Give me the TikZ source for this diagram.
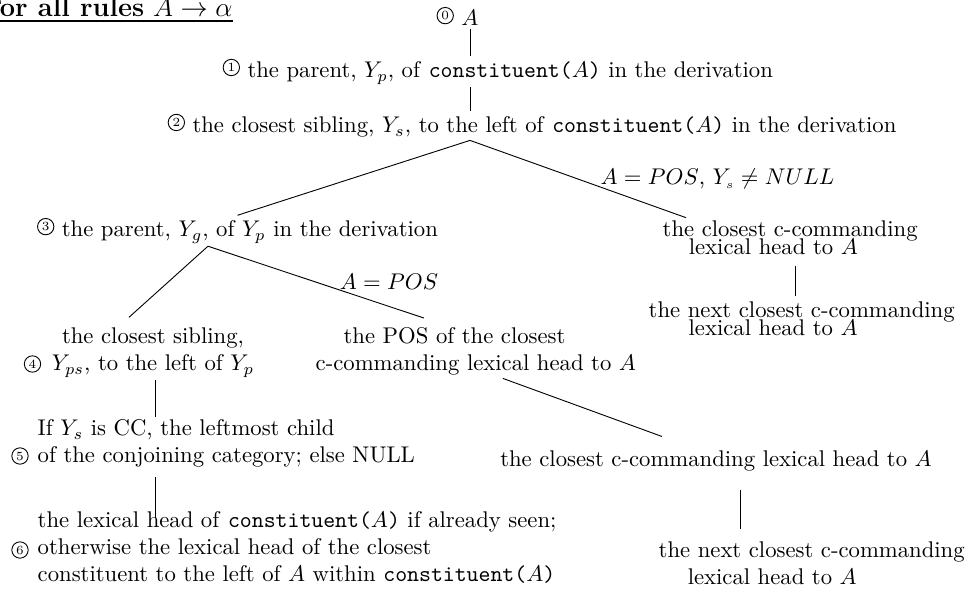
\documentclass[tikz,border=0pt]{standalone}
\usepackage{amsmath}
\usepackage{amssymb}
\usepackage{tikz}
\usetikzlibrary{calc}

\tikzset{
  numc/.style={draw,circle,inner sep=0pt,minimum size=7.2pt,font=\fontsize{5.5}{6}\selectfont},
  txt/.style={inner sep=1pt,anchor=base},
  leftbox/.style={inner sep=1pt,anchor=base west,align=left},
  tightbox/.style={inner sep=1pt,anchor=base west,align=left,
    font={\baselineskip=8.3pt\relax\lineskiplimit=-10pt\relax}},
}
\newcommand{\cnum}[1]{\tikz[baseline=-2.8pt]\node[numc]{#1};}
\newcommand{\cons}{\texttt{constituent(}$A$\texttt{)}}

\begin{document}
\begin{tikzpicture}[x=0.4406pt,y=-0.4406pt]
  \useasboundingbox (0,0) rectangle (968,590);
  % heading
  \node[inner sep=0pt,anchor=base east,font=\large] (title) at (233,17)
       {\underline{\textbf{For all rules} $A \rightarrow \alpha$}};
  % main spine
  \node[txt] (n0) at (457.5,26) {\cnum{0} $A$};
  \node[leftbox] (n1) at (220,78) {\cnum{1} the parent, $Y_p$, of \cons{} in the derivation};
  \node[leftbox] (n2) at (165,133) {\cnum{2} the closest sibling, $Y_s$, to the left of \cons{} in the derivation};
  \node[txt] (n3) at (237.5,237) {\cnum{3} the parent, $Y_g$, of $Y_p$ in the derivation};
  % right branch under 2
  \node[txt] (lbl1) at (717.5,185) {$A = POS$, $Y_{\scriptscriptstyle s}\neq NULL$};
  \node[tightbox] (r1) at (660,255) {the closest c-commanding\\\hspace*{11.5pt}lexical head to $A$};
  \node[tightbox] (r2) at (646,336) {the next closest c-commanding\\\hspace*{17.6pt}lexical head to $A$};
  % children of 3
  \node[txt] (lbl2) at (389,290) {$A = POS$};
  \node[txt,align=center] (n4) at (153,371) {the closest sibling,\\$Y_{ps}$, to the left of $Y_p$};
  \node[numc] (c4) at (32.5,364) {4};
  \node[leftbox] (p4) at (313,371) {\hspace*{12.3pt}the POS of the closest\\c-commanding lexical head to $A$};
  % left column
  \node[leftbox] (n5) at (35,463) {If $Y_s$ is CC, the leftmost child\\of the conjoining category; else NULL};
  \node[numc] (c5) at (20,456) {5};
  \node[leftbox] (n6) at (35,582) {the lexical head of \cons{} if already seen;\\
       otherwise the lexical head of the closest\\constituent to the left of $A$ within \cons{}};
  \node[numc] (c6) at (20,550) {6};
  % right column under POS
  \node[txt] (r3) at (716,467) {the closest c-commanding lexical head to $A$};
  \node[leftbox] (r4) at (656,585) {the next closest c-commanding\\\hspace*{12.8pt}lexical head to $A$};
  % edges
  \draw ([xshift=5.5pt]n0.south) -- ([xshift=5.5pt]n0.south |- n1.north);
  \draw ([xshift=5.5pt]n0.south |- n1.south) -- ([xshift=5.5pt]n0.south |- n2.north);
  \draw ([xshift=5.5pt]n0.south |- n2.south) -- (n3.north);
  \draw ([xshift=5.5pt]n0.south |- n2.south) -- ($(r1.north west)!0.1!(r1.north east)$);
  \draw[shorten <=3.5pt,shorten >=1.3pt] ([xshift=2.4pt]r1.south) -- ([xshift=2.4pt]r1.south |- r2.north);
  \draw ([xshift=-13pt]n3.south) -- ([xshift=-10.6pt,yshift=3.5pt]n4.north);
  \draw ([xshift=-13pt]n3.south) -- ([xshift=-22.9pt,yshift=3.1pt]p4.north);
  \draw ([xshift=1.3pt]n4.south) -- ([xshift=1.3pt]n4.south |- n5.north);
  \draw[shorten <=3.1pt,shorten >=-4pt] ([xshift=1.3pt]n4.south |- n5.south) -- ([xshift=1.3pt]n4.south |- n6.north);
  \draw ([xshift=11.9pt]p4.south) -- ([xshift=-23.8pt,yshift=5.3pt]r3.north);
  \draw[shorten <=7pt,shorten >=4.4pt] ([xshift=10.6pt]r3.south) -- ([xshift=10.6pt]r3.south |- r4.north);
\end{tikzpicture}
\end{document}
